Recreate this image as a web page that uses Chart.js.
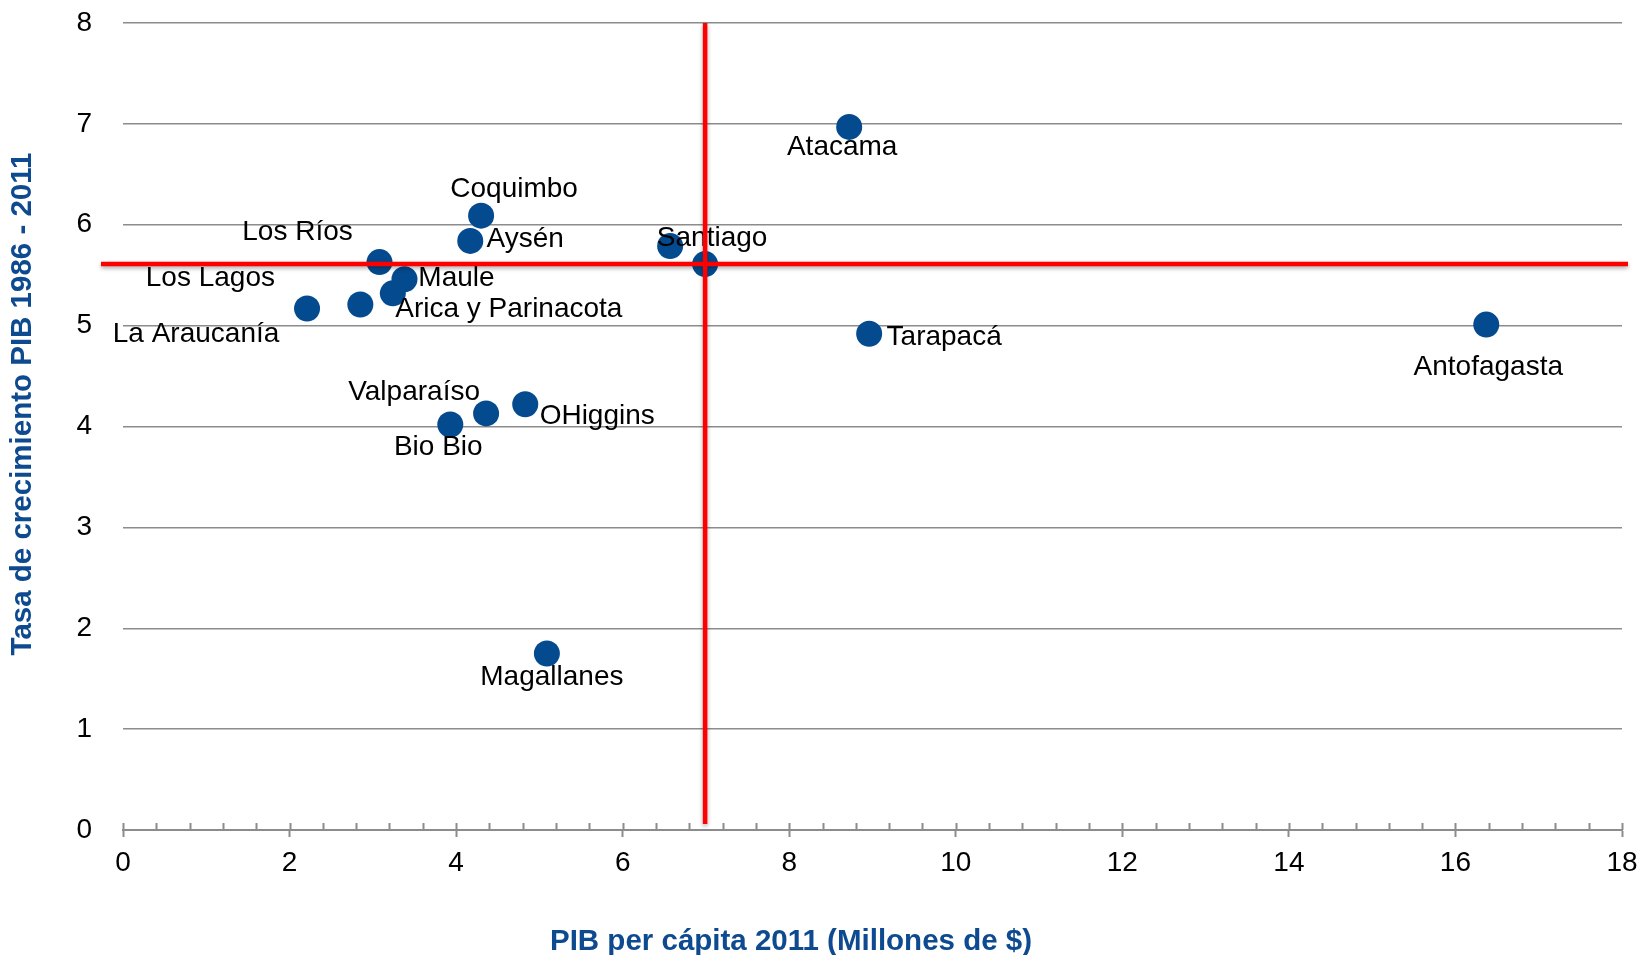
<!DOCTYPE html>
<html>
<head>
<meta charset="utf-8">
<script src="https://cdn.jsdelivr.net/npm/chart.js@4.4.1/dist/chart.umd.min.js"></script>
<style>
  body { margin: 0; background: #fff; }
  canvas { display: block; }
</style>
</head>
<body>
<canvas id="chart" width="1641" height="955"></canvas>
<script>
// Datos: PIB per cápita 2011 vs crecimiento 1986-2011 por región
const regions = ["Atacama", "Coquimbo", "Aysén", "Los Ríos", "Santiago", "Maule",
    "Arica y Parinacota", "Los Lagos", "La Araucanía", "Tarapacá", "Antofagasta",
    "Valparaíso", "OHiggins", "Bio Bio", "Magallanes"];
const pibPerCapita = [8.72, 4.30, 4.17, 3.08, 6.57, 3.38, 3.24, 2.85, 2.21, 8.96, 16.37, 4.36, 4.83, 3.93, 5.09];
const growthRate   = [6.97, 6.09, 5.84, 5.63, 5.79, 5.46, 5.32, 5.21, 5.17, 4.92, 5.01, 4.13, 4.22, 4.02, 1.75];

// promedio nacional (punto sin etiqueta donde se cruzan las líneas rojas)
const chilePib = 6.99;
const chileGrowth = 5.61;

const yTicks = [0, 1, 2, 3, 4, 5, 6, 7, 8];
const xTicks = [0, 2, 4, 6, 8, 10, 12, 14, 16, 18];

// desplazamiento de cada etiqueta respecto a su punto (px)
const labelOffsets = [[-7, 20], [33, -26], [55, -2], [-82, -30], [42, -8], [52, -1],
    [116, 16], [-150, -26], [-111, 26], [75, 4], [2, 43], [-72, -21], [72, 12], [-12, 23], [5, 24]];

const FONT = "'Liberation Sans', Arial, sans-serif";
const BLUE = '#034a8e';
const GRID = '#8c8c8c';

const overlay = {
    id: 'overlay',
    afterDatasetsDraw(chart) {
        const ctx = chart.ctx;
        const meta = chart.getDatasetMeta(0);
        const x = chart.scales.x, y = chart.scales.y;
        const area = chart.chartArea;

        // etiquetas
        ctx.save();
        ctx.font = '28px ' + FONT;
        ctx.fillStyle = '#000';
        ctx.textAlign = 'center';
        ctx.textBaseline = 'middle';
        meta.data.forEach((pt, i) => {
            const off = labelOffsets[i];
            ctx.fillText(regions[i], pt.x + off[0], pt.y + off[1]);
        });
        ctx.restore();

        // marcas menores del eje x (hacia arriba)
        ctx.save();
        ctx.strokeStyle = GRID;
        ctx.lineWidth = 2;
        ctx.beginPath();
        for (let i = 0; i <= 45; i++) {
            const px = Math.round(x.getPixelForValue(i * 0.4)) + 0.5;
            ctx.moveTo(px, area.bottom - 7);
            ctx.lineTo(px, area.bottom);
        }
        ctx.stroke();
        ctx.restore();

        // líneas rojas del promedio nacional
        const cx = x.getPixelForValue(chilePib);
        const cy = y.getPixelForValue(chileGrowth);
        ctx.save();
        ctx.strokeStyle = '#ff0000';
        ctx.lineWidth = 4.5;
        ctx.shadowColor = 'rgba(0,0,0,0.35)';
        ctx.shadowBlur = 4;
        ctx.shadowOffsetY = 2;
        ctx.beginPath();
        ctx.moveTo(area.left - 22, cy);
        ctx.lineTo(area.right + 6, cy);
        ctx.moveTo(cx, y.getPixelForValue(8));
        ctx.lineTo(cx, y.getPixelForValue(0) - 6);
        ctx.stroke();
        ctx.restore();

        // títulos de ejes
        ctx.save();
        ctx.font = 'bold 29.5px ' + FONT;
        ctx.fillStyle = '#0d4a8f';
        ctx.textAlign = 'center';
        ctx.textBaseline = 'middle';
        ctx.fillText('PIB per cápita 2011 (Millones de $)', 791, 942);
        ctx.translate(23, 404);
        ctx.rotate(-Math.PI / 2);
        ctx.fillText('Tasa de crecimiento PIB 1986 - 2011', 0, 0);
        ctx.restore();
    }
};

new Chart(document.getElementById('chart'), {
    type: 'scatter',
    data: {
        datasets: [{
            data: pibPerCapita.map((v, i) => ({ x: v, y: growthRate[i] })),
            backgroundColor: BLUE,
            borderWidth: 0,
            pointRadius: 13,
            pointHoverRadius: 13
        }, {
            data: [{ x: chilePib, y: chileGrowth }],
            backgroundColor: BLUE,
            borderWidth: 0,
            pointRadius: 13,
            pointHoverRadius: 13
        }]
    },
    options: {
        responsive: false,
        animation: false,
        events: [],
        layout: { padding: { top: 23, right: 19, left: 0, bottom: 0 } },
        plugins: { legend: { display: false }, tooltip: { enabled: false } },
        scales: {
            x: {
                type: 'linear',
                min: 0,
                max: 18,
                afterBuildTicks: s => { s.ticks = xTicks.map(v => ({ value: v })); },
                afterFit: s => { s.height = 125; s.paddingLeft = 0; s.paddingRight = 0; },
                grid: { drawOnChartArea: false, drawTicks: true, tickLength: 7, tickColor: GRID, tickWidth: 2 },
                border: { display: true, color: GRID, width: 2 },
                ticks: { font: { size: 28, family: FONT }, color: '#000', padding: 9 }
            },
            y: {
                min: 0,
                max: 8,
                afterBuildTicks: s => { s.ticks = yTicks.map(v => ({ value: v })); },
                afterFit: s => { s.width = 123; s.paddingTop = 0; s.paddingBottom = 0; },
                grid: { color: GRID, lineWidth: 1.5, drawTicks: false },
                border: { display: false },
                ticks: { font: { size: 28, family: FONT }, color: '#000', padding: 31 }
            }
        }
    },
    plugins: [overlay]
});
</script>
</body>
</html>
